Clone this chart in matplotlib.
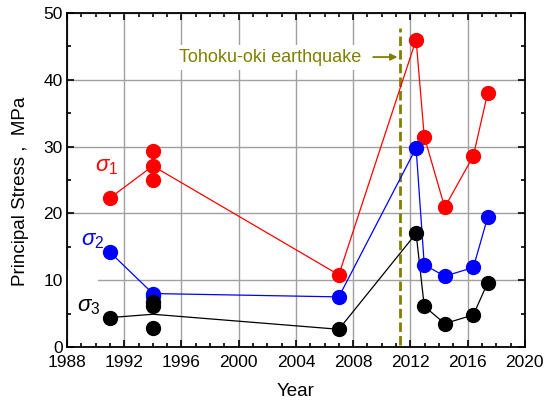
import matplotlib
matplotlib.use("Agg")
import matplotlib.pyplot as plt
from matplotlib.ticker import MultipleLocator
from matplotlib.patches import Rectangle

plt.rcParams['font.family'] = ['Liberation Sans', 'DejaVu Sans']
plt.rcParams['mathtext.fontset'] = 'custom'
plt.rcParams['mathtext.it'] = 'Liberation Sans:italic'
plt.rcParams['mathtext.rm'] = 'Liberation Sans'

# ---- data ----
years = [1991.0, 1994.0, 2007.0, 2012.4, 2012.97, 2014.4, 2016.4, 2017.4]
s1_line = [22.3, 27.1, 10.8, 46.0, 31.5, 20.9, 28.6, 38.0]
s2_line = [14.2, 8.0, 7.5, 29.8, 12.3, 10.6, 11.9, 19.4]
s3_line = [4.4, 4.9, 2.65, 17.0, 6.1, 3.5, 4.8, 9.6]

s1_pts_x = [1991.0, 1994.0, 1994.0, 1994.0, 2007.0, 2012.4, 2012.97, 2014.4, 2016.4, 2017.4]
s1_pts_y = [22.3, 29.3, 27.1, 25.0, 10.8, 46.0, 31.5, 20.9, 28.6, 38.0]
s2_pts_x = [1991.0, 1994.0, 1994.0, 2007.0, 2012.4, 2012.97, 2014.4, 2016.4, 2017.4]
s2_pts_y = [14.2, 8.0, 7.7, 7.5, 29.8, 12.3, 10.6, 11.9, 19.4]
s3_pts_x = [1991.0, 1994.0, 1994.0, 1994.0, 2007.0, 2012.4, 2012.97, 2014.4, 2016.4, 2017.4]
s3_pts_y = [4.4, 6.8, 6.1, 2.8, 2.65, 17.0, 6.1, 3.5, 4.8, 9.6]

quake_year = 2011.3
quake_label = "Tohoku-oki earthquake"

fig = plt.figure(figsize=(5.49, 4.01), dpi=100)
ax = fig.add_axes([0.122, 0.1347, 0.834, 0.833])

ax.set_xlim(1988, 2020)
ax.set_ylim(0, 50)
ax.xaxis.set_major_locator(MultipleLocator(4))
ax.xaxis.set_minor_locator(MultipleLocator(1))
ax.yaxis.set_major_locator(MultipleLocator(10))
ax.yaxis.set_minor_locator(MultipleLocator(5))
ax.tick_params(which='both', direction='in', top=True, right=True, width=1.2, labelsize=12.5)
ax.tick_params(which='major', length=5)
ax.tick_params(which='minor', length=3)
ax.tick_params(axis='x', which='major', pad=6)
ax.tick_params(axis='y', which='major', pad=3)
for s in ax.spines.values():
    s.set_linewidth(1.3)
ax.set_axisbelow(True)
ax.grid(True, which='major', color='#a0a0a0', linewidth=1.0)

# white patch hiding gridline near sigma3 label
ax.add_patch(Rectangle((1988, 8.5), 2.2, 3.0, facecolor='white', edgecolor='none', zorder=1))

ax.plot(years, s1_line, color='red', lw=0.9, zorder=3)
ax.plot(years, s2_line, color='blue', lw=0.9, zorder=3)
ax.plot(years, s3_line, color='black', lw=0.9, zorder=3)
ax.plot(s1_pts_x, s1_pts_y, 'o', color='red', ms=10, zorder=4)
ax.plot(s2_pts_x, s2_pts_y, 'o', color='blue', ms=10, zorder=4)
ax.plot(s3_pts_x, s3_pts_y, 'o', color='black', ms=10, zorder=4)

ax.plot([quake_year, quake_year], [0.3, 47.8], color='#808000', lw=2.0,
        linestyle=(0, (3.4, 1.5)), zorder=2)

ax.text(1995.85, 43.3, quake_label, color='#808000', fontsize=13, va='center', ha='left',
        bbox=dict(facecolor='white', edgecolor='none', pad=3), zorder=2.5)
ax.annotate('', xy=(2011.1, 43.4), xytext=(2009.4, 43.4),
            arrowprops=dict(arrowstyle='-|>', color='#808000', lw=1.3,
                            mutation_scale=10, shrinkA=0, shrinkB=0), zorder=3)

ax.text(1990.8, 27.0, r'$\sigma_1$', color='red', fontsize=16, ha='center', va='center')
ax.text(1989.8, 15.9, r'$\sigma_2$', color='blue', fontsize=16, ha='center', va='center')
ax.text(1989.5, 6.0, r'$\sigma_3$', color='black', fontsize=16, ha='center', va='center')

ax.set_xlabel('Year', fontsize=13.5, labelpad=9)
ax.set_ylabel('Principal Stress ,  MPa', fontsize=13.5)
ax.yaxis.set_label_coords(-0.084, 0.467)

fig.savefig('out.png', dpi=100)
